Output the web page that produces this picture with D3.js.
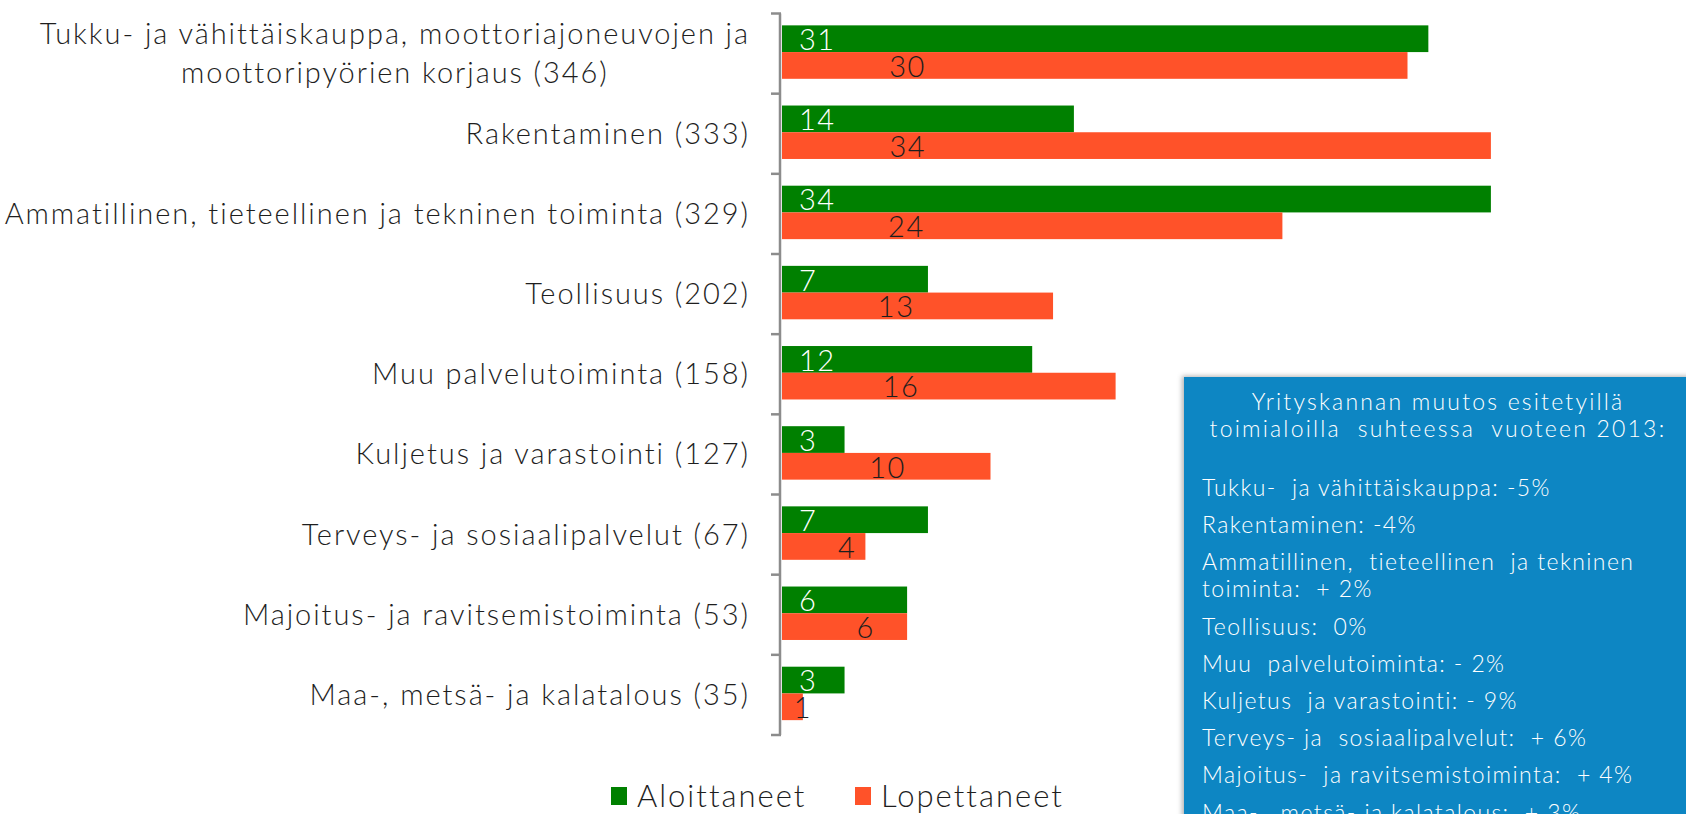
<!DOCTYPE html>
<html>
<head>
<meta charset="utf-8">
<style>
  body { margin: 0; background: #fff; }
  svg text { font-family: Lato, "Open Sans", sans-serif; }
</style>
</head>
<body>
<script src="https://cdn.jsdelivr.net/npm/d3@7"></script>
<script>
// data
var categories = [
  ["Tukku- ja vähittäiskauppa, moottoriajoneuvojen ja", "moottoripyörien korjaus (346)"],
  ["Rakentaminen (333)"],
  ["Ammatillinen, tieteellinen ja tekninen toiminta (329)"],
  ["Teollisuus (202)"],
  ["Muu palvelutoiminta (158)"],
  ["Kuljetus ja varastointi (127)"],
  ["Terveys- ja sosiaalipalvelut (67)"],
  ["Majoitus- ja ravitsemistoiminta (53)"],
  ["Maa-, metsä- ja kalatalous (35)"]
];
var aloittaneet = [31, 14, 34, 7, 12, 3, 7, 6, 3];
var lopettaneet = [30, 34, 24, 13, 16, 10, 4, 6, 1];
var seriesNames = ["Aloittaneet", "Lopettaneet"];
var colors = ["#008000", "#ff5229"];

var boxTitle = ["Yrityskannan muutos esitetyillä", "toimialoilla  suhteessa  vuoteen 2013:"];
var boxItems = [
  ["Tukku-  ja vähittäiskauppa: -5%"],
  ["Rakentaminen: -4%"],
  ["Ammatillinen,  tieteellinen  ja tekninen", "toiminta:  + 2%"],
  ["Teollisuus:  0%"],
  ["Muu  palvelutoiminta: - 2%"],
  ["Kuljetus  ja varastointi: - 9%"],
  ["Terveys- ja  sosiaalipalvelut:  + 6%"],
  ["Majoitus-  ja ravitsemistoiminta:  + 4%"],
  ["Maa-,  metsä- ja kalatalous:  + 3%"]
];

var W = 1686, H = 814;
var svg = d3.select("body").append("svg")
    .attr("width", W)
    .attr("height", H);

var x = d3.scaleLinear().domain([0, 35]).range([782, 782 + 35 * 20.85]);
var y = d3.scaleBand().domain(d3.range(categories.length)).range([13.5, 735]);
var bh = y.bandwidth() / 3;   // height of one bar

// axis (ticks between categories)
var axisG = svg.append("g");
axisG.append("line")
    .attr("x1", 780).attr("x2", 780)
    .attr("y1", y.range()[0]).attr("y2", y.range()[1])
    .attr("stroke", "#8c8c8c").attr("stroke-width", 2.5);
var tickYs = d3.range(categories.length + 1).map(function(i) { return y.range()[0] + i * y.step(); });
axisG.selectAll(".tick").data(tickYs).enter().append("line")
    .attr("x1", 771).attr("x2", 781)
    .attr("y1", function(d) { return d; }).attr("y2", function(d) { return d; })
    .attr("stroke", "#8c8c8c").attr("stroke-width", 2.5);

// category labels
var lab = svg.append("g").selectAll("text").data(categories).enter().append("text")
    .attr("fill", "#1e1e1e")
    .style("font-size", "29px")
    .style("font-weight", 300)
    .style("letter-spacing", "1.95px");
lab.each(function(lines, i) {
  var t = d3.select(this);
  var cy = y(i) + y.bandwidth() / 2;
  var lh = 39;
  lines.forEach(function(s, j) {
    t.append("tspan").text(s)
      .attr("y", cy + (j - (lines.length - 1) / 2) * lh + 10);
  });
  // right aligned block, lines centered to each other
  var widths = [];
  t.selectAll("tspan").each(function() { widths.push(this.getComputedTextLength()); });
  var w = d3.max(widths);
  t.selectAll("tspan").attr("x", 750 - w / 2)
    .attr("text-anchor", "middle");
});

// bars
var groupTop = function(i) { return y(i) + (y.bandwidth() - 2 * bh) / 2 - 1.5; };
var g = svg.append("g");
g.selectAll(".a").data(aloittaneet).enter().append("rect")
    .attr("x", x(0))
    .attr("y", function(d, i) { return groupTop(i); })
    .attr("width", function(d) { return x(d) - x(0); })
    .attr("height", bh)
    .attr("fill", colors[0]);
g.selectAll(".l").data(lopettaneet).enter().append("rect")
    .attr("x", x(0))
    .attr("y", function(d, i) { return groupTop(i) + bh; })
    .attr("width", function(d) { return x(d) - x(0); })
    .attr("height", bh)
    .attr("fill", colors[1]);

// value labels
g.selectAll(".at").data(aloittaneet).enter().append("text")
    .attr("x", x(0) + 17)
    .attr("y", function(d, i) { return groupTop(i) + bh - 2; })
    .attr("fill", "#fff")
    .style("font-size", "29px")
    .style("font-weight", 300)
    .style("letter-spacing", "1.5px")
    .text(function(d) { return d; });
g.selectAll(".lt").data(lopettaneet).enter().append("text")
    .attr("x", function(d) { return x(0) + 126 * (1 - Math.exp(-d / 5.5)); })
    .attr("y", function(d, i) { return groupTop(i) + 2 * bh - 2; })
    .attr("text-anchor", "middle")
    .attr("fill", "#1e1e1e")
    .style("font-size", "29px")
    .style("font-weight", 300)
    .style("letter-spacing", "1.5px")
    .text(function(d) { return d; });

// legend
var leg = svg.append("g");
var legX = [611, 855];
seriesNames.forEach(function(s, i) {
  leg.append("rect").attr("x", legX[i]).attr("y", 787)
    .attr("width", 16).attr("height", 18).attr("fill", colors[i]);
  leg.append("text").attr("x", legX[i] + 26).attr("y", 807)
    .attr("fill", "#1e1e1e")
    .style("font-size", "31px")
    .style("font-weight", 300)
    .style("letter-spacing", "2px")
    .text(s);
});

// info box
var defs = svg.append("defs");
var f = defs.append("filter").attr("id", "sh").attr("x", "-5%").attr("y", "-5%").attr("width", "110%").attr("height", "110%");
f.append("feDropShadow").attr("dx", -2).attr("dy", -1).attr("stdDeviation", 2.5)
  .attr("flood-color", "#000").attr("flood-opacity", 0.3);

var box = svg.append("g");
box.append("rect").attr("x", 1184).attr("y", 377).attr("width", 520).attr("height", 460)
  .attr("fill", "#1186c3").attr("filter", "url(#sh)");
boxTitle.forEach(function(s, i) {
  box.append("text").attr("x", 1438).attr("y", 410 + i * 27)
    .attr("text-anchor", "middle").attr("fill", "#fff")
    .style("font-size", "23px").style("font-weight", 300)
    .style("letter-spacing", "2.2px")
    .style("white-space", "pre")
    .text(s);
});
var by = 496;
boxItems.forEach(function(lines) {
  lines.forEach(function(s, j) {
    box.append("text").attr("x", 1202).attr("y", by + j * 27)
      .attr("fill", "#fff")
      .style("font-size", "23px").style("font-weight", 300)
      .style("letter-spacing", "1.4px")
      .style("white-space", "pre")
      .text(s);
  });
  by += 27 * (lines.length - 1) + 37.2;
});
</script>
</body>
</html>
